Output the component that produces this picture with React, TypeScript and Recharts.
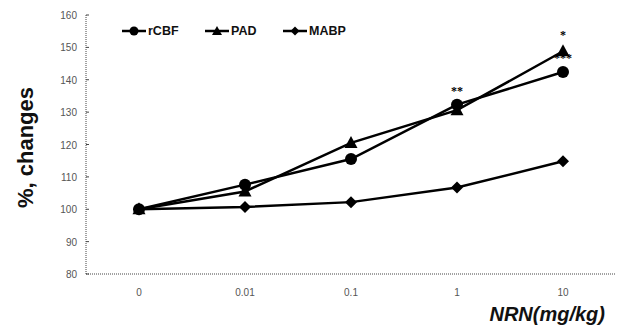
import { LineChart, Line, XAxis, YAxis, LabelList } from "recharts";

const doses = ["0", "0.01", "0.1", "1", "10"];
const rcbf = [100, 107.6, 115.5, 132.3, 142.4];
const pad = [100, 105.5, 120.5, 130.6, 148.8];
const mabp = [100, 100.7, 102.2, 106.7, 114.8];
const rcbfSig = ["", "", "", "**", "***"];
const padSig = ["", "", "", "", "*"];
const yTicks = [80, 90, 100, 110, 120, 130, 140, 150, 160];

const data = doses.map((dose, i) => ({
  dose,
  rcbf: rcbf[i],
  pad: pad[i],
  mabp: mabp[i],
  rcbfSig: rcbfSig[i],
  padSig: padSig[i],
}));

const FONT = "'Liberation Sans', Arial, sans-serif";

function circleDot(props: any) {
  const { cx, cy, index } = props;
  return <circle key={`c-${index}`} cx={cx} cy={cy} r={6} fill="#000" />;
}

function triangleDot(props: any) {
  const { cx, cy, index } = props;
  return (
    <path
      key={`t-${index}`}
      d={`M${cx},${cy - 7} L${cx + 6.5},${cy + 5} L${cx - 6.5},${cy + 5} Z`}
      fill="#000"
    />
  );
}

function diamondDot(props: any) {
  const { cx, cy, index } = props;
  return (
    <path
      key={`d-${index}`}
      d={`M${cx},${cy - 6} L${cx + 6},${cy} L${cx},${cy + 6} L${cx - 6},${cy} Z`}
      fill="#000"
    />
  );
}

function YTick(props: any) {
  const { x, y, payload } = props;
  return (
    <g>
      <line x1={x} y1={y} x2={x + 3} y2={y} stroke="#444" />
      <text x={x - 9} y={y + 4} textAnchor="end" fontSize={10} fill="#555" fontFamily={FONT}>
        {payload.value}
      </text>
    </g>
  );
}

function XTick(props: any) {
  const { x, y, payload } = props;
  return (
    <text x={x} y={y + 14} textAnchor="middle" fontSize={10} fill="#555" fontFamily={FONT}>
      {payload.value}
    </text>
  );
}

function YLabel(props: any) {
  const { viewBox } = props;
  const cy = viewBox.y + viewBox.height / 2 + 3;
  return (
    <text
      x={33}
      y={cy}
      transform={`rotate(-90, 33, ${cy})`}
      textAnchor="middle"
      fontSize={22}
      fontWeight="bold"
      fill="#111"
      fontFamily={FONT}
    >
      %, changes
    </text>
  );
}

function XLabel() {
  return (
    <text
      x={605}
      y={321}
      textAnchor="end"
      fontSize={20}
      fontWeight="bold"
      fontStyle="italic"
      fill="#111"
      fontFamily={FONT}
    >
      NRN(mg/kg)
    </text>
  );
}

const legendItems = [
  { name: "rCBF", shape: "circle", x: 122 },
  { name: "PAD", shape: "triangle", x: 205 },
  { name: "MABP", shape: "diamond", x: 283 },
];

function LegendIcon({ shape }: { shape: string }) {
  return (
    <svg width={24} height={14} style={{ display: "block" }}>
      <line x1={0} y1={7} x2={24} y2={7} stroke="#000" strokeWidth={2.5} />
      {shape === "circle" && <circle cx={12} cy={7} r={4.5} fill="#000" />}
      {shape === "triangle" && <path d="M12,2 L17,11 L7,11 Z" fill="#000" />}
      {shape === "diamond" && <path d="M12,2.5 L16.5,7 L12,11.5 L7.5,7 Z" fill="#000" />}
    </svg>
  );
}

export default function App() {
  return (
    <div style={{ position: "absolute", left: 0, top: 0, width: 624, height: 329, background: "#fff" }}>
      <LineChart
        width={624}
        height={329}
        data={data}
        margin={{ top: 15, right: 8, left: 0, bottom: 0 }}
      >
        <XAxis
          dataKey="dose"
          scale="band"
          height={55}
          tickLine={false}
          tick={<XTick />}
          stroke="#444"
          strokeDasharray="1 1"
          label={<XLabel />}
        />
        <YAxis
          width={86}
          domain={[80, 160]}
          ticks={yTicks}
          tickLine={false}
          tickSize={0}
          tickMargin={0}
          tick={<YTick />}
          stroke="#444"
          strokeDasharray="1 1"
          label={<YLabel />}
        />
        <Line
          dataKey="mabp"
          stroke="#000"
          strokeWidth={2.5}
          dot={diamondDot}
          isAnimationActive={false}
        />
        <Line
          dataKey="pad"
          stroke="#000"
          strokeWidth={2.5}
          dot={triangleDot}
          isAnimationActive={false}
        >
          <LabelList dataKey="padSig" position="top" offset={12} fontSize={12} fontWeight="bold" fill="#000" stroke="none" />
        </Line>
        <Line
          dataKey="rcbf"
          stroke="#000"
          strokeWidth={2.5}
          dot={circleDot}
          isAnimationActive={false}
        >
          <LabelList dataKey="rcbfSig" position="top" offset={10} fontSize={12} fontWeight="bold" fill="#000" stroke="none" />
        </Line>
      </LineChart>
      {legendItems.map((item) => (
        <div
          key={item.name}
          style={{
            position: "absolute",
            left: item.x,
            top: 24,
            display: "flex",
            alignItems: "center",
            gap: 2,
            fontFamily: FONT,
            fontSize: 12.5,
            fontWeight: "bold",
            color: "#111",
          }}
        >
          <LegendIcon shape={item.shape} />
          <span>{item.name}</span>
        </div>
      ))}
    </div>
  );
}
